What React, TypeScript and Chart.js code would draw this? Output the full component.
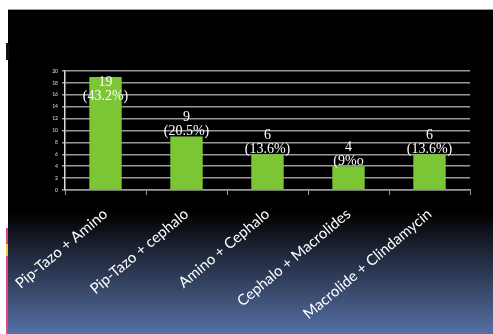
import React, { useEffect, useRef } from "react";
import { Chart, registerables } from "chart.js";

Chart.register(...registerables);

const categories = [
  "Pip-Tazo + Amino",
  "Pip-Tazo + cephalo",
  "Amino + Cephalo",
  "Cephalo + Macrolides",
  "Macrolide + Clindamycin",
];
const counts = [19, 9, 6, 4, 6];
const percentLabels = ["(43.2%)", "(20.5%)", "(13.6%)", "(9%o", "(13.6%)"];
const yMax = 20;
const yStep = 2;

const W = 493;
const H = 334;

const backgroundPlugin = {
  id: "slideBackground",
  beforeDraw(chart: any) {
    const ctx = chart.ctx;
    ctx.save();
    ctx.fillStyle = "#ffffff";
    ctx.fillRect(0, 0, W, H);
    const grad = ctx.createLinearGradient(0, 212, 0, H);
    grad.addColorStop(0, "#000000");
    grad.addColorStop(0.3, "#1c2334");
    grad.addColorStop(1, "#5570a4");
    ctx.fillStyle = "#000000";
    ctx.fillRect(8, 10, W - 8, 205);
    ctx.fillStyle = grad;
    ctx.fillRect(8, 212, W - 8, H - 212);
    ctx.fillStyle = "#9a9a9a";
    ctx.fillRect(8, 9, W - 8, 1);
    ctx.fillStyle = "#111111";
    ctx.fillRect(6, 43, 3, 17);
    ctx.fillStyle = "#d9478a";
    ctx.fillRect(6, 228, 2, H - 228);
    ctx.fillStyle = "#e8c84a";
    ctx.fillRect(6, 244, 2, 12);
    ctx.restore();
  },
};

const labelPlugin = {
  id: "barLabels",
  afterDatasetsDraw(chart: any) {
    const ctx = chart.ctx;
    const meta = chart.getDatasetMeta(0);
    const top = chart.chartArea.top;
    ctx.save();
    ctx.fillStyle = "#ffffff";
    ctx.textAlign = "center";
    ctx.textBaseline = "middle";
    ctx.font = "14px 'Liberation Serif', 'DejaVu Serif', serif";
    meta.data.forEach((bar: any, i: number) => {
      const y2 = Math.max(bar.y - 5, top + 25);
      ctx.fillText(percentLabels[i], bar.x, y2);
      ctx.fillText(String(counts[i]), bar.x, y2 - 14);
    });
    ctx.restore();
  },
};

export default function App() {
  const ref = useRef<HTMLCanvasElement | null>(null);
  useEffect(() => {
    if (!ref.current) return;
    const chart = new Chart(ref.current, {
      type: "bar",
      data: {
        labels: categories,
        datasets: [
          {
            data: counts,
            backgroundColor: "#7cc635",
            borderWidth: 0,
            categoryPercentage: 0.4,
            barPercentage: 1,
          },
        ],
      },
      options: {
        responsive: false,
        animation: false,
        layout: { padding: { top: 71, right: 23, left: 0, bottom: 0 } },
        plugins: { legend: { display: false }, tooltip: { enabled: false } },
        scales: {
          x: {
            grid: {
              drawOnChartArea: false,
              drawTicks: true,
              tickLength: 5,
              color: "#9a9a9a",
            },
            border: { color: "#9a9a9a", width: 1.5 },
            ticks: {
              color: "#ffffff",
              font: { family: "Lato, 'Open Sans', sans-serif", size: 15 },
              maxRotation: 40,
              minRotation: 40,
              padding: 10,
            },
            afterFit(scale: any) {
              scale.height = H - 190;
            },
          },
          y: {
            min: 0,
            max: yMax,
            ticks: {
              stepSize: yStep,
              color: "#bbbbbb",
              font: { family: "Lato, sans-serif", size: 5, weight: "bold" },
              padding: 4,
            },
            grid: {
              color: "#9a9a9a",
              lineWidth: 1.5,
              drawTicks: true,
              tickLength: 3,
            },
            border: { color: "#dddddd", width: 1.5 },
            afterFit(scale: any) {
              scale.width = 65;
            },
          },
        },
      },
      plugins: [backgroundPlugin, labelPlugin],
    });
    return () => chart.destroy();
  }, []);
  return (
    <div style={{ position: "fixed", left: 0, top: 0, width: W, height: H }}>
      <canvas ref={ref} width={W} height={H} style={{ display: "block" }} />
    </div>
  );
}
